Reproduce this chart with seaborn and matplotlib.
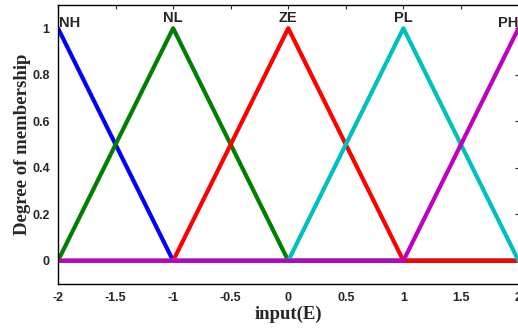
import matplotlib
matplotlib.use("Agg")
import matplotlib.pyplot as plt
import seaborn as sns
import pandas as pd
import numpy as np

x_pts = [-2, -1, 0, 1, 2]
mf_names = ["NH", "NL", "ZE", "PL", "PH"]
NH = [1, 0, 0, 0, 0]
NL = [0, 1, 0, 0, 0]
ZE = [0, 0, 1, 0, 0]
PL = [0, 0, 0, 1, 0]
PH = [0, 0, 0, 0, 1]
peaks = [-2, -1, 0, 1, 2]
colors = ["#0000ff", "#008000", "#ff0000", "#00bfbf", "#bf00bf"]
xticks = [-2, -1.5, -1, -0.5, 0, 0.5, 1, 1.5, 2]
xticklabels = ["-2", "-1.5", "-1", "-0.5", "0", "0.5", "1", "1.5", "2"]
yticks = [0, 0.2, 0.4, 0.6, 0.8, 1]
yticklabels = ["0", "0.2", "0.4", "0.6", "0.8", "1"]

sns.set_style("white")
plt.rcParams['font.family'] = ['Liberation Sans', 'DejaVu Sans']

fig = plt.figure(figsize=(5.18, 3.30), dpi=100)
ax = fig.add_axes([58/518, 1 - 284/330, 1 - 58/518 + 0.001, (284 - 5)/330])

series = [NH, NL, ZE, PL, PH]
for name, vals, col in zip(mf_names, series, colors):
    df = pd.DataFrame({"x": x_pts, "y": vals})
    sns.lineplot(data=df, x="x", y="y", ax=ax, color=col, linewidth=3.0,
                 sort=False, estimator=None)

ax.set_xlim(-2, 2)
ax.set_ylim(-0.1, 1.1)
ax.set_xticks(xticks)
ax.set_xticklabels(xticklabels, fontweight="bold", fontsize=9)
ax.set_yticks(yticks)
ax.set_yticklabels(yticklabels, fontweight="bold", fontsize=9)
ax.tick_params(direction="in", top=True, right=True, length=3, width=0.8, pad=6)
for s in ax.spines.values():
    s.set_color("black")
    s.set_linewidth(1.0)

for name, p in zip(mf_names, peaks):
    ha = "center"
    yy = 1.026
    if p == -2:
        ha = "left"
        yy = 1.004
    elif p == 2:
        ha = "right"
        yy = 1.004
    ax.text(p + (0.01 if p == -2 else 0), yy, name, ha=ha, va="baseline",
            fontsize=10.5, fontweight="bold")

ax.set_xlabel("input(E)", fontfamily="Liberation Serif", fontweight="bold", fontsize=13.5, labelpad=1)
ax.set_ylabel("Degree of membership", fontfamily="Liberation Serif", fontweight="bold", fontsize=13.5, labelpad=1)

fig.savefig("out.png", dpi=100)
